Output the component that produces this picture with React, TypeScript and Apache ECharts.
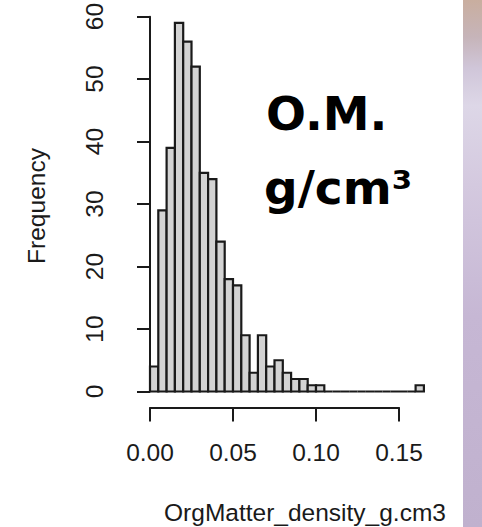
import React, { useEffect, useRef } from "react";
import * as echarts from "echarts";

// Histogram bins of OrgMatter_density_g.cm3 (bin width 0.005)
const binStarts = [
  0.0, 0.005, 0.01, 0.015, 0.02, 0.025, 0.03, 0.035, 0.04, 0.045, 0.05,
  0.055, 0.06, 0.065, 0.07, 0.075, 0.08, 0.085, 0.09, 0.095, 0.1, 0.105,
  0.11, 0.115, 0.12, 0.125, 0.13, 0.135, 0.14, 0.145, 0.15, 0.155, 0.16,
];
const binEnds = [
  0.005, 0.01, 0.015, 0.02, 0.025, 0.03, 0.035, 0.04, 0.045, 0.05, 0.055,
  0.06, 0.065, 0.07, 0.075, 0.08, 0.085, 0.09, 0.095, 0.1, 0.105, 0.11,
  0.115, 0.12, 0.125, 0.13, 0.135, 0.14, 0.145, 0.15, 0.155, 0.16, 0.165,
];
const counts = [
  4, 29, 39, 59, 56, 52, 35, 34, 24, 18, 17, 9, 3, 9, 4, 5, 3, 2, 2, 1, 1, 0,
  0, 0, 0, 0, 0, 0, 0, 0, 0, 0, 1,
];
const xTickLabels = ["0.00", "0.05", "0.10", "0.15"];
const xTitle = "OrgMatter_density_g.cm3";
const yTitle = "Frequency";
const noteLine1 = "O.M.";
const noteLine2 = "g/cm³";

export default function App() {
  const ref = useRef<HTMLDivElement>(null);
  useEffect(() => {
    if (!ref.current) return;
    const chart = echarts.init(ref.current, null, { renderer: "svg" });
    const data = binStarts.map((s, i) => [s, binEnds[i], counts[i]]);
    const axisColor = "#1a1a1a";
    const font = "Liberation Sans";
    const fs = 24.5;
    chart.setOption({
      animation: false,
      backgroundColor: "#ffffff",
      grid: [
        { left: 150, top: 13.5, width: 273.9, height: 378 },
        { left: 150, top: 406.5, width: 249, height: 1 },
      ],
      xAxis: [
        { type: "value", gridIndex: 0, min: 0, max: 0.165, show: false },
        {
          type: "value",
          gridIndex: 1,
          min: 0,
          max: 0.15,
          interval: 0.05,
          axisLine: { show: true, lineStyle: { color: axisColor, width: 2 } },
          axisTick: { show: true, length: 14, lineStyle: { color: axisColor, width: 2 } },
          splitLine: { show: false },
          axisLabel: {
            margin: 32,
            fontSize: fs,
            fontFamily: font,
            color: axisColor,
            formatter: (v: number) => {
              const idx = Math.round(v / 0.05);
              return xTickLabels[idx] ?? "";
            },
          },
        },
      ],
      yAxis: [
        {
          type: "value",
          gridIndex: 0,
          min: 0,
          max: 60,
          interval: 10,
          offset: 13,
          axisLine: { show: true, lineStyle: { color: axisColor, width: 2 } },
          axisTick: { show: true, length: 13, lineStyle: { color: axisColor, width: 2 } },
          splitLine: { show: false },
          axisLabel: {
            rotate: 90,
            margin: 30,
            fontSize: fs,
            fontFamily: font,
            color: axisColor,
          },
        },
        { type: "value", gridIndex: 1, show: false },
      ],
      series: [
        {
          type: "custom",
          xAxisIndex: 0,
          yAxisIndex: 0,
          data,
          encode: { x: [0, 1], y: 2 },
          clip: false,
          renderItem: (params: any, api: any) => {
            const x0 = api.value(0);
            const x1 = api.value(1);
            const c = api.value(2);
            const p0 = api.coord([x0, 0]);
            const p1 = api.coord([x1, c]);
            if (c === 0) {
              return {
                type: "line",
                shape: { x1: p0[0], y1: p0[1], x2: p1[0], y2: p0[1] },
                style: { stroke: axisColor, lineWidth: 2 },
              };
            }
            return {
              type: "rect",
              shape: {
                x: p0[0],
                y: p1[1],
                width: p1[0] - p0[0],
                height: p0[1] - p1[1],
              },
              style: { fill: "#d3d3d3", stroke: axisColor, lineWidth: 2.2 },
            };
          },
        },
      ],
      graphic: [
        {
          type: "text",
          x: 36,
          y: 206,
          rotation: Math.PI / 2,
          style: {
            text: yTitle,
            fontSize: fs,
            fontFamily: font,
            fill: axisColor,
            textAlign: "center",
            textVerticalAlign: "middle",
          },
        },
        {
          type: "text",
          x: 305,
          y: 512,
          style: {
            text: xTitle,
            fontSize: fs,
            fontFamily: font,
            fill: axisColor,
            textAlign: "center",
            textVerticalAlign: "middle",
          },
        },
        {
          type: "text",
          x: 266,
          y: 113,
          style: {
            text: noteLine1,
            fontSize: 47,
            fontWeight: "bold",
            fontFamily: "DejaVu Sans",
            fill: "#000000",
            textAlign: "left",
            textVerticalAlign: "middle",
          },
        },
        {
          type: "text",
          x: 264,
          y: 187,
          style: {
            text: noteLine2,
            fontSize: 47,
            fontWeight: "bold",
            fontFamily: "DejaVu Sans",
            fill: "#000000",
            textAlign: "left",
            textVerticalAlign: "middle",
          },
        },
        {
          type: "rect",
          shape: { x: 463, y: 0, width: 19, height: 527 },
          style: {
            fill: new echarts.graphic.LinearGradient(0, 0, 0, 1, [
              { offset: 0, color: "#c9ae9f" },
              { offset: 0.07, color: "#c6b4b9" },
              { offset: 0.13, color: "#d0c6d9" },
              { offset: 0.2, color: "#ddd7e7" },
              { offset: 0.35, color: "#d4c9df" },
              { offset: 0.6, color: "#c6b7d4" },
              { offset: 1, color: "#c0b1ce" },
            ]),
          },
        },
      ],
    });
    return () => chart.dispose();
  }, []);
  return (
    <div
      ref={ref}
      style={{ position: "absolute", left: 0, top: 0, width: 482, height: 527 }}
    />
  );
}
